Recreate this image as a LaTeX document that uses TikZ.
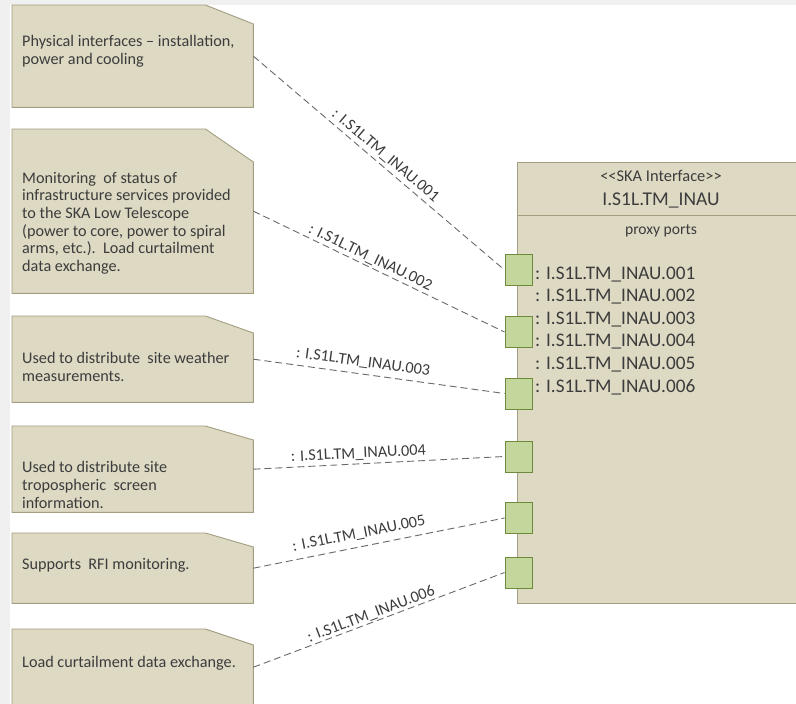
\documentclass[tikz,border=0pt]{standalone}
\usepackage{fontspec}
\setmainfont{Carlito}
\definecolor{notefill}{HTML}{DDD9C3}
\definecolor{noteedge}{HTML}{A39E80}
\definecolor{portfill}{HTML}{C3D69B}
\definecolor{portedge}{HTML}{6E8B3D}
\definecolor{txt}{HTML}{3C3C3C}
\definecolor{dashc}{HTML}{6A6A6A}
\definecolor{bgstrip}{HTML}{F0F0F0}
\tikzset{
  notebox/.style={rectangle, draw=none, minimum width=241pt, inner sep=0pt, anchor=north west},
  noteline/.style={draw=noteedge, fill=notefill, line width=0.9pt},
  notetext/.style={anchor=north west, align=left, inner sep=0pt, text=txt, font=\fontsize{16.2}{17.6}\selectfont},
  bigbox/.style={rectangle, draw=noteedge, fill=notefill, line width=0.9pt, minimum width=290pt, minimum height=441pt, anchor=north west, inner sep=0pt},
  porttext/.style={anchor=north west, align=left, inner sep=0pt, text=txt, font=\fontsize{19.2}{22.6}\selectfont},
  smalltext/.style={inner sep=0pt, text=txt, font=\fontsize{15.6}{18}\selectfont},
  titletext/.style={inner sep=0pt, text=txt, font=\fontsize{19.5}{22}\selectfont},
  portbox/.style={rectangle, draw=portedge, fill=portfill, line width=0.9pt, minimum width=27pt, minimum height=31pt, inner sep=0pt},
  conn/.style={draw=dashc, line width=0.9pt, dash pattern=on 7pt off 4pt},
  lbl/.style={sloped, inner sep=0pt, text=txt, font=\fontsize{16.2}{18}\selectfont},
}
\newcommand{\dognote}[4]{%
  \node[notebox, minimum height=#3pt] (#1) at (12,#2) {};
  \path[noteline] (#1.north west) -- ([xshift=-48pt]#1.north east) -- ([yshift=-#4pt]#1.north east) -- (#1.south east) -- (#1.south west) -- cycle;
}
\begin{document}
\begin{tikzpicture}[x=1pt,y=-1pt]
\useasboundingbox (0,0) rectangle (796,704);
\clip (0,0) rectangle (796,704);
\fill[bgstrip] (0,0) rectangle (796,704);
\fill[white] (10,5) rectangle (796,704);

% notes
\dognote{n1}{5}{102}{19}
\dognote{n2}{129}{164}{33}
\dognote{n3}{316}{86}{17}
\dognote{n4}{426}{86}{14}
\dognote{n5}{533}{70}{14}
\dognote{n6}{629}{76}{16}

\node[notetext] (t1) at (22,35) {Physical interfaces -- installation,\\power and cooling};
\node[notetext] (t2) at (22,172) {Monitoring\ \ of status of\\infrastructure services provided\\to the SKA Low Telescope\\(power to core, power to spiral\\arms, etc.).\ \ Load curtailment\\data exchange.};
\node[notetext] (t3) at (22,352.5) {Used to distribute\ \ site weather\\measurements.};
\node[notetext] (t4) at (22,461.5) {Used to distribute site\\tropospheric\ \ screen\\information.};
\node[notetext] (t5) at (22,558) {Supports\ \ RFI monitoring.};
\node[notetext] (t6) at (22,656) {Load curtailment data exchange.};

% interface block
\node[bigbox] (iface) at (517,162) {};
\draw[draw=noteedge, line width=0.9pt] ([yshift=-53pt]iface.north west) -- ([yshift=-53pt]iface.north east);
\node[smalltext, font=\fontsize{16.4}{18}\selectfont] (stereo) at (661,176) {{<}{<}SKA Interface{>}{>}};
\node[titletext] (title) at (661,200) {I.S1L.TM\_INAU};
\node[smalltext] (proxy) at (661,231) {proxy ports};
\node[porttext] (plist) at (535,266.5) {: I.S1L.TM\_INAU.001\\: I.S1L.TM\_INAU.002\\: I.S1L.TM\_INAU.003\\: I.S1L.TM\_INAU.004\\: I.S1L.TM\_INAU.005\\: I.S1L.TM\_INAU.006};

% ports
\node[portbox] (p1) at (518.5,270) {};
\node[portbox] (p2) at (518.5,332) {};
\node[portbox] (p3) at (518.5,393.5) {};
\node[portbox] (p4) at (518.5,456.5) {};
\node[portbox] (p5) at (518.5,518) {};
\node[portbox] (p6) at (518.5,572.5) {};

% connectors
\draw[conn] (n1.east) -- node[lbl, above=3pt, pos=0.5] {: I.S1L.TM\_INAU.001} (p1.west);
\draw[conn] (n2.east) -- node[lbl, above=2pt, pos=0.45] {: I.S1L.TM\_INAU.002} (p2.west);
\draw[conn] (n3.east) -- node[lbl, above=5pt, pos=0.43] {: I.S1L.TM\_INAU.003} (p3.west);
\draw[conn] (n4.east) -- node[lbl, above=3pt, pos=0.42] {: I.S1L.TM\_INAU.004} (p4.west);
\draw[conn] (n5.east) -- node[lbl, above=6pt, pos=0.43] {: I.S1L.TM\_INAU.005} (p5.west);
\draw[conn] (n6.east) -- node[lbl, above=1pt, pos=0.48] {: I.S1L.TM\_INAU.006} (p6.west);
\end{tikzpicture}
\end{document}
